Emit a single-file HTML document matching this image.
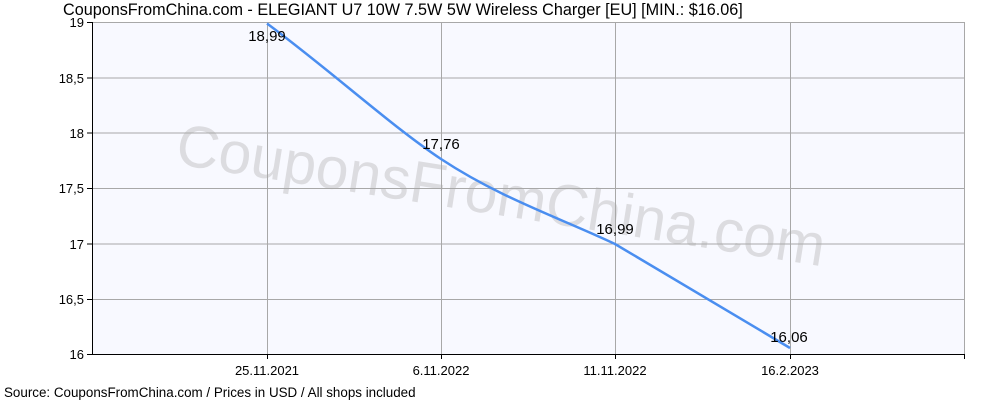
<!DOCTYPE html>
<html><head><style>body{margin:0;background:#fff}</style></head><body>
<svg width="1000" height="400" xmlns="http://www.w3.org/2000/svg" font-family="Liberation Sans, sans-serif">
<rect width="1000" height="400" fill="#fff"/>
<rect x="92" y="22" width="872" height="332" fill="#f8f9ff"/>
<text x="498" y="215" font-size="59" fill="#dcdce0" text-anchor="middle" transform="rotate(9 498 215)">CouponsFromChina.com</text>
<g stroke="#a8a8a8" stroke-width="1">
<line x1="92" y1="78" x2="964" y2="78"/><line x1="92" y1="133" x2="964" y2="133"/>
<line x1="92" y1="188.5" x2="964" y2="188.5"/><line x1="92" y1="244" x2="964" y2="244"/>
<line x1="92" y1="299.5" x2="964" y2="299.5"/><line x1="92" y1="22.5" x2="964" y2="22.5"/>
<line x1="267.5" y1="22" x2="267.5" y2="354"/><line x1="441.5" y1="22" x2="441.5" y2="354"/>
<line x1="615.5" y1="22" x2="615.5" y2="354"/><line x1="790.5" y1="22" x2="790.5" y2="354"/>
<line x1="964.5" y1="22" x2="964.5" y2="354"/>
</g>
<g stroke="#000" stroke-width="1">
<line x1="92.5" y1="22" x2="92.5" y2="355"/><line x1="92" y1="354.5" x2="965" y2="354.5"/>
<line x1="87" y1="22.5" x2="92" y2="22.5"/><line x1="87" y1="78" x2="92" y2="78"/><line x1="87" y1="133" x2="92" y2="133"/>
<line x1="87" y1="188.5" x2="92" y2="188.5"/><line x1="87" y1="244" x2="92" y2="244"/><line x1="87" y1="299.5" x2="92" y2="299.5"/><line x1="87" y1="354.5" x2="92" y2="354.5"/>
<line x1="267.5" y1="354" x2="267.5" y2="359"/><line x1="441.5" y1="354" x2="441.5" y2="359"/><line x1="615.5" y1="354" x2="615.5" y2="359"/><line x1="790.5" y1="354" x2="790.5" y2="359"/><line x1="964.5" y1="354" x2="964.5" y2="359"/>
</g>
<g font-size="13" fill="#000" text-anchor="end">
<text x="84" y="27">19</text><text x="84" y="83">18,5</text><text x="84" y="138">18</text><text x="84" y="193">17,5</text><text x="84" y="249">17</text><text x="84" y="304">16,5</text><text x="84" y="359">16</text>
</g>
<g font-size="13" fill="#000" text-anchor="middle">
<text x="267" y="375">25.11.2021</text><text x="441" y="375">6.11.2022</text><text x="615" y="375">11.11.2022</text><text x="790" y="375">16.2.2023</text>
</g>
<path d="M267,23.5 C330,70 390,125 441,159 C500,198 560,218 615,244 C680,282 740,318 790,348" fill="none" stroke="#4a8ef0" stroke-width="2.5"/>
<g font-size="15" fill="#000" text-anchor="middle">
<text x="267" y="41">18,99</text><text x="441" y="149">17,76</text><text x="615" y="234">16,99</text><text x="789" y="342">16,06</text>
</g>
<text x="63" y="15" font-size="16.2" fill="#000">CouponsFromChina.com - ELEGIANT U7 10W 7.5W 5W Wireless Charger [EU] [MIN.: $16.06]</text>
<text x="4" y="397" font-size="13.4" fill="#000">Source: CouponsFromChina.com / Prices in USD / All shops included</text>
</svg>
</body></html>
